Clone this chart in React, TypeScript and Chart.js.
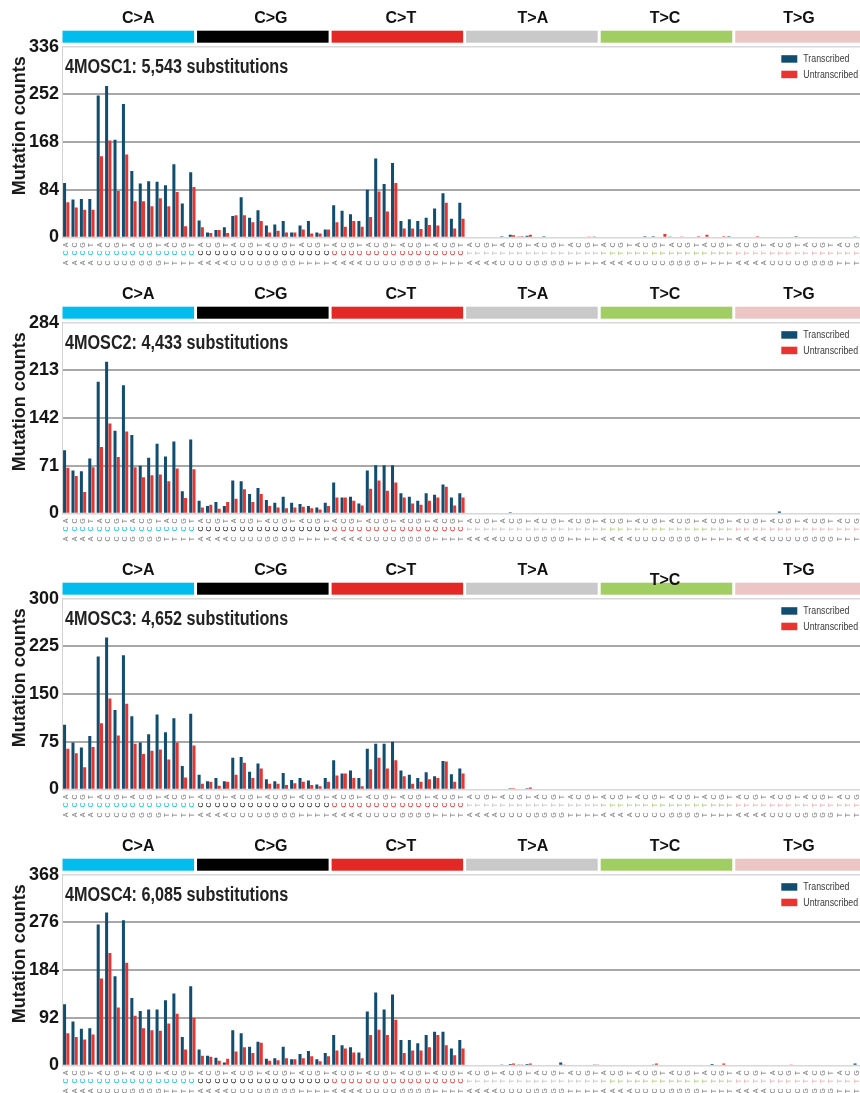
import React, { useEffect, useRef } from 'react';
import { Chart, registerables } from 'chart.js';

Chart.register(...registerables);

// ---------- categories ----------
const substitutionTypes = ['C>A', 'C>G', 'C>T', 'T>A', 'T>C', 'T>G'];
const flankingPairs = ['AA', 'AC', 'AG', 'AT', 'CA', 'CC', 'CG', 'CT', 'GA', 'GC', 'GG', 'GT', 'TA', 'TC', 'TG', 'TT'];
const categories: string[] = substitutionTypes.flatMap((s) =>
  flankingPairs.map((f) => f[0] + s[0] + f[1])
);
const seriesNames = ['Transcribed', 'Untranscribed'];

// ---------- 4MOSC1 ----------
const mosc1Transcribed = [
  96, 67, 68, 68, 250, 267, 172, 235, 117, 95, 99, 98, 92, 129, 60, 115,
  30, 9, 13, 18, 38, 71, 35, 48, 21, 23, 29, 9, 21, 29, 9, 14,
  57, 47, 41, 29, 84, 139, 94, 131, 29, 32, 29, 35, 51, 78, 33, 61,
  0, 0, 0, 0, 2, 5, 1, 3, 0, 2, 0, 0, 0, 0, 0, 1,
  0, 0, 0, 0, 0, 2, 2, 0, 1, 0, 0, 0, 0, 0, 0, 2,
  0, 0, 0, 0, 0, 0, 0, 2, 0, 0, 0, 0, 0, 0, 1, 0,
];
const mosc1Untranscribed = [
  62, 53, 49, 49, 143, 171, 82, 146, 64, 64, 55, 69, 55, 80, 20, 89,
  18, 8, 13, 8, 39, 39, 27, 29, 9, 12, 9, 9, 14, 7, 7, 14,
  27, 19, 29, 19, 36, 81, 46, 96, 16, 16, 15, 22, 21, 61, 16, 33,
  0, 0, 0, 0, 0, 4, 2, 5, 0, 0, 0, 0, 0, 0, 1, 0,
  0, 0, 0, 0, 0, 0, 0, 6, 0, 1, 0, 2, 5, 0, 2, 0,
  0, 0, 2, 0, 0, 0, 0, 0, 0, 0, 0, 0, 0, 0, 0, 0,
];

// ---------- 4MOSC2 ----------
const mosc2Transcribed = [
  94, 64, 63, 82, 196, 226, 123, 191, 117, 71, 83, 104, 85, 107, 33, 110,
  19, 11, 17, 11, 49, 48, 29, 38, 20, 16, 25, 16, 14, 11, 9, 16,
  46, 24, 25, 15, 64, 72, 72, 72, 30, 25, 19, 30, 28, 43, 24, 30,
  0, 0, 0, 0, 0, 2, 0, 1, 0, 0, 0, 0, 0, 0, 0, 0,
  0, 0, 0, 0, 0, 0, 1, 0, 0, 0, 0, 0, 0, 0, 0, 0,
  0, 0, 0, 0, 0, 3, 0, 0, 0, 0, 0, 0, 0, 0, 0, 0,
];
const mosc2Untranscribed = [
  68, 56, 32, 69, 99, 134, 84, 122, 69, 54, 57, 58, 48, 67, 23, 66,
  9, 13, 7, 17, 22, 36, 17, 29, 11, 9, 8, 9, 10, 8, 6, 11,
  24, 24, 19, 12, 37, 49, 34, 46, 24, 15, 13, 19, 24, 40, 12, 24,
  0, 0, 0, 0, 0, 1, 0, 1, 0, 0, 0, 0, 0, 0, 0, 0,
  0, 0, 0, 0, 0, 0, 0, 0, 0, 0, 0, 0, 1, 0, 0, 0,
  0, 0, 0, 0, 0, 0, 0, 0, 0, 0, 0, 0, 0, 0, 0, 0,
];

// ---------- 4MOSC3 ----------
const mosc3Transcribed = [
  102, 74, 66, 84, 209, 239, 125, 211, 115, 74, 87, 118, 90, 112, 37, 119,
  23, 13, 18, 13, 50, 51, 28, 41, 16, 13, 26, 15, 18, 14, 8, 18,
  46, 25, 30, 18, 64, 72, 72, 75, 30, 23, 18, 27, 21, 45, 24, 33,
  0, 0, 0, 0, 1, 2, 1, 2, 0, 0, 0, 0, 0, 0, 0, 0,
  0, 0, 0, 0, 0, 0, 1, 0, 0, 0, 0, 0, 0, 0, 0, 0,
  0, 0, 0, 1, 0, 0, 0, 0, 0, 0, 0, 0, 0, 0, 0, 0,
];
const mosc3Untranscribed = [
  64, 57, 35, 67, 104, 143, 85, 135, 72, 56, 61, 63, 47, 74, 19, 69,
  9, 12, 6, 12, 23, 42, 18, 33, 9, 9, 7, 10, 12, 7, 5, 12,
  22, 25, 18, 5, 32, 50, 33, 46, 21, 9, 12, 16, 18, 44, 12, 25,
  0, 0, 0, 0, 0, 2, 0, 3, 0, 0, 0, 0, 0, 0, 0, 0,
  0, 0, 0, 0, 0, 0, 0, 0, 0, 0, 0, 0, 0, 0, 0, 0,
  0, 0, 0, 0, 0, 0, 0, 0, 0, 0, 0, 0, 0, 0, 0, 0,
];

// ---------- 4MOSC4 ----------
const mosc4Transcribed = [
  118, 85, 71, 72, 272, 295, 172, 280, 130, 105, 108, 108, 126, 139, 55, 153,
  31, 19, 15, 6, 68, 62, 36, 46, 13, 14, 36, 12, 22, 28, 12, 24,
  59, 39, 35, 25, 104, 141, 108, 137, 49, 49, 43, 59, 65, 65, 33, 49,
  0, 0, 0, 0, 2, 3, 1, 3, 0, 0, 0, 6, 0, 0, 0, 2,
  0, 0, 0, 0, 0, 0, 1, 0, 0, 0, 0, 0, 0, 3, 0, 0,
  0, 0, 0, 0, 0, 0, 0, 0, 0, 0, 0, 0, 0, 0, 4, 0,
];
const mosc4Untranscribed = [
  62, 55, 50, 60, 168, 217, 112, 198, 96, 72, 68, 67, 81, 100, 31, 92,
  19, 17, 9, 13, 27, 35, 24, 44, 9, 10, 14, 12, 14, 18, 8, 18,
  29, 33, 25, 14, 59, 69, 59, 88, 24, 29, 29, 35, 59, 39, 20, 33,
  0, 0, 0, 0, 0, 4, 2, 4, 0, 0, 0, 2, 0, 0, 0, 1,
  0, 0, 0, 0, 0, 0, 4, 0, 0, 0, 0, 0, 0, 0, 4, 0,
  0, 0, 0, 0, 0, 0, 2, 0, 0, 0, 0, 0, 0, 0, 0, 0,
];

const sampleTitles = [
  '4MOSC1: 5,543 substitutions',
  '4MOSC2: 4,433 substitutions',
  '4MOSC3: 4,652 substitutions',
  '4MOSC4: 6,085 substitutions',
];
const axisMaxima = [336, 284, 300, 368];
const transcribedSeries = [mosc1Transcribed, mosc2Transcribed, mosc3Transcribed, mosc4Transcribed];
const untranscribedSeries = [mosc1Untranscribed, mosc2Untranscribed, mosc3Untranscribed, mosc4Untranscribed];

// ---------- styles ----------
const bandColors = ['#03BCEE', '#010101', '#E32926', '#CAC9C9', '#A1CE63', '#EBC6C4'];
const midLetterColors = ['#03BCEE', '#222222', '#E32926', '#BDBDBD', '#A1CE63', '#EBA8A6'];
const barColors = ['#114D6E', '#EA3430'];
const FONT = '"Liberation Sans", Arial, sans-serif';

const decorPlugin = {
  id: 'signatureDecor',
  afterDraw(chart: any, _args: any, opts: any) {
    const { ctx, chartArea } = chart;
    const xs = chart.scales.x;
    const labels: string[] = chart.data.labels;
    const n = labels.length;
    const step = (chartArea.right - chartArea.left) / n;
    const top = chartArea.top;
    const bottom = chartArea.bottom;
    ctx.save();

    // substitution bands and labels
    const nudges = [9, 7, 2.5, 0, -2.5, -3];
    substitutionTypes.forEach((s, g) => {
      const left = xs.getPixelForValue(g * 16) - step / 2;
      const right = xs.getPixelForValue(g * 16 + 15) + step / 2;
      ctx.fillStyle = bandColors[g];
      ctx.fillRect(left + 0.5, top - 16, right - left - 3, 12);
      ctx.font = `bold 16px ${FONT}`;
      ctx.fillStyle = '#111';
      ctx.textAlign = 'center';
      ctx.textBaseline = 'middle';
      const shift = opts.labelShift && opts.labelShift[g] ? opts.labelShift[g] : 0;
      ctx.fillText(s, (left + right) / 2 + nudges[g], top - 28.5 + shift);
    });

    // trinucleotide letters
    ctx.font = `7px ${FONT}`;
    ctx.textAlign = 'center';
    ctx.textBaseline = 'middle';
    const rowOffsets = [7.5, 15.5, 25.5];
    labels.forEach((lab, i) => {
      const cx = xs.getPixelForValue(i);
      const g = Math.floor(i / 16);
      const chars = [lab[2], lab[1], lab[0]];
      chars.forEach((ch, r) => {
        ctx.save();
        ctx.translate(cx, bottom + rowOffsets[r]);
        ctx.rotate(-Math.PI / 2);
        ctx.fillStyle = r === 1 ? midLetterColors[g] : '#7a7a7a';
        ctx.fillText(ch, 0, 0);
        ctx.restore();
      });
    });

    // sample title
    ctx.save();
    ctx.translate(chartArea.left + 3, top + 26.5);
    ctx.scale(0.81, 1);
    ctx.font = `bold 20px ${FONT}`;
    ctx.fillStyle = '#222';
    ctx.textAlign = 'left';
    ctx.textBaseline = 'alphabetic';
    ctx.fillText(opts.title, 0, 0);
    ctx.restore();

    // y axis title
    ctx.save();
    ctx.translate(20, top + 79);
    ctx.rotate(-Math.PI / 2);
    ctx.font = `bold 18px ${FONT}`;
    ctx.fillStyle = '#1a1a1a';
    ctx.textAlign = 'center';
    ctx.textBaseline = 'middle';
    ctx.fillText('Mutation counts', 0, 0);
    ctx.restore();

    // legend
    seriesNames.forEach((name, k) => {
      const by = top + 8.5 + k * 15.5;
      ctx.fillStyle = barColors[k];
      ctx.fillRect(chartArea.right - 88, by, 16, 7.5);
      ctx.save();
      ctx.translate(chartArea.right - 66, by + 4);
      ctx.scale(0.8, 1);
      ctx.font = `11px ${FONT}`;
      ctx.fillStyle = '#3a3a3a';
      ctx.textAlign = 'left';
      ctx.textBaseline = 'middle';
      ctx.fillText(name, 0, 0);
      ctx.restore();
    });

    ctx.restore();
  },
};

function Panel({ index }: { index: number }) {
  const ref = useRef<HTMLCanvasElement | null>(null);
  useEffect(() => {
    if (!ref.current) return;
    const max = axisMaxima[index];
    const chart = new Chart(ref.current, {
      type: 'bar',
      data: {
        labels: categories,
        datasets: [
          {
            label: seriesNames[0],
            data: transcribedSeries[index],
            backgroundColor: barColors[0],
            borderWidth: 0,
            categoryPercentage: 0.78,
            barPercentage: 0.92,
          },
          {
            label: seriesNames[1],
            data: untranscribedSeries[index],
            backgroundColor: barColors[1],
            borderWidth: 0,
            categoryPercentage: 0.78,
            barPercentage: 0.92,
          },
        ],
      },
      options: {
        responsive: false,
        animation: false,
        devicePixelRatio: 1,
        layout: { padding: { top: 46.7, bottom: 38.5, left: 0, right: 2.7 } },
        plugins: {
          legend: { display: false },
          tooltip: { enabled: false },
          signatureDecor: {
            title: sampleTitles[index],
            labelShift: index === 2 ? [0, 0, 0, 0, 10, 0] : null,
          },
        } as any,
        scales: {
          x: {
            display: false,
            grid: { display: false },
          },
          y: {
            min: 0,
            max: max,
            ticks: {
              stepSize: max / 4,
              color: '#151515',
              padding: 3,
              font: { family: FONT, size: 18, weight: 'bold' },
            },
            grid: {
              drawTicks: false,
              color: (c: any) => (c.tick && (c.tick.value === 0 || c.tick.value === max) ? '#d8d8d8' : '#a8a8a8'),
              lineWidth: (c: any) => (c.tick && (c.tick.value === 0 || c.tick.value === max) ? 1.5 : 2),
            },
            border: { display: true, color: '#d2d2d2', width: 1 },
            afterFit: (s: any) => {
              s.width = 62;
            },
          },
        },
      },
      plugins: [decorPlugin],
    });
    return () => chart.destroy();
  }, [index]);
  return (
    <div style={{ position: 'relative', width: 872, height: 276 }}>
      <canvas ref={ref} width={872} height={276} style={{ display: 'block' }} />
    </div>
  );
}

export default function App() {
  return (
    <div
      style={{
        position: 'absolute',
        left: 0,
        top: 0,
        width: 860,
        height: 1093,
        overflow: 'hidden',
        background: '#fff',
      }}
    >
      {[0, 1, 2, 3].map((i) => (
        <Panel key={i} index={i} />
      ))}
    </div>
  );
}
